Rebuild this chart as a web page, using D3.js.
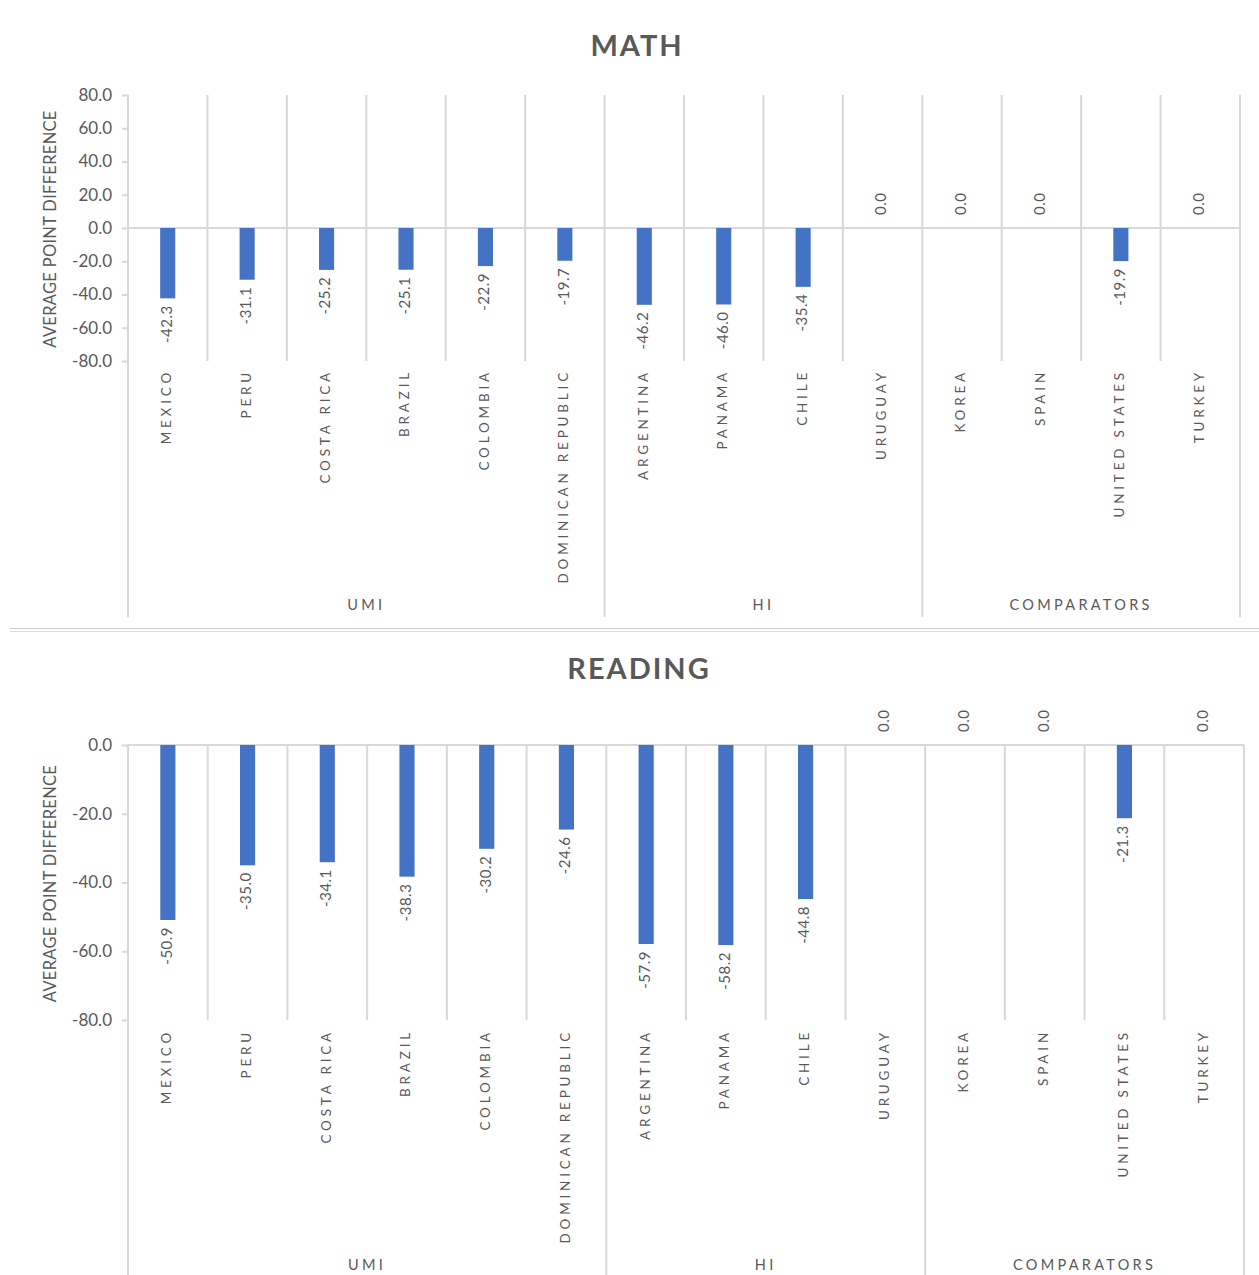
<!DOCTYPE html>
<html>
<head>
<meta charset="utf-8">
<script src="https://cdn.jsdelivr.net/npm/d3@7"></script>
<style>
  body { margin: 0; background: #fff; }
  svg { display: block; font-family: Lato, "Open Sans", sans-serif; }
</style>
</head>
<body>
<div id="chart"></div>
<script>
// data
var countries = ["MEXICO", "PERU", "COSTA RICA", "BRAZIL", "COLOMBIA", "DOMINICAN REPUBLIC",
                 "ARGENTINA", "PANAMA", "CHILE", "URUGUAY",
                 "KOREA", "SPAIN", "UNITED STATES", "TURKEY"];
var groups = [
  { name: "UMI", size: 6 },
  { name: "HI", size: 4 },
  { name: "COMPARATORS", size: 4 }
];
var mathValues = [-42.3, -31.1, -25.2, -25.1, -22.9, -19.7, -46.2, -46.0, -35.4, 0.0, 0.0, 0.0, -19.9, 0.0];
var readingValues = [-50.9, -35.0, -34.1, -38.3, -30.2, -24.6, -57.9, -58.2, -44.8, 0.0, 0.0, 0.0, -21.3, 0.0];
var mathTicks = [-80, -60, -40, -20, 0, 20, 40, 60, 80];
var readingTicks = [-80, -60, -40, -20, 0];

var textColor = "#595959";
var gridColor = "#d9d9d9";
var barColor = "#4472c4";

var svg = d3.select("#chart").append("svg")
    .attr("width", 1259)
    .attr("height", 1275);

function drawPanel(p) {
  var g = svg.append("g");

  var x = d3.scaleBand()
            .domain(countries)
            .range([p.left, p.right])
            .paddingInner(0)
            .paddingOuter(0);

  var y = d3.scaleLinear()
            .domain(p.domain)
            .range([p.bottom, p.top]);

  var bw = x.bandwidth();
  var barW = bw * 0.19;

  // title
  g.append("text")
   .attr("x", p.titleX)
   .attr("y", p.titleY)
   .attr("text-anchor", "middle")
   .attr("dominant-baseline", "middle")
   .style("font-size", "29px")
   .style("font-weight", "bold")
   .style("letter-spacing", "2px")
   .style("fill", textColor)
   .text(p.title);

  // vertical gridlines between categories
  var bounds = countries.map(function(c) { return x(c) + bw; });
  var groupEnds = [];
  var acc = 0;
  groups.forEach(function(gr) { acc += gr.size; groupEnds.push(acc - 1); });

  g.selectAll(".vgrid")
   .data(bounds)
   .enter().append("line")
   .attr("x1", function(d) { return d; })
   .attr("x2", function(d) { return d; })
   .attr("y1", p.top)
   .attr("y2", function(d, i) { return groupEnds.indexOf(i) >= 0 ? p.axisBottom : p.bottom; })
   .style("stroke", gridColor)
   .style("stroke-width", 2);

  // zero line
  g.append("line")
   .attr("x1", p.left)
   .attr("x2", p.right)
   .attr("y1", y(0))
   .attr("y2", y(0))
   .style("stroke", gridColor)
   .style("stroke-width", 2);

  // y axis
  var yAxis = d3.axisLeft(y)
                .tickValues(p.ticks)
                .tickSize(6)
                .tickPadding(10)
                .tickFormat(function(d) { return d.toFixed(1); });

  var ya = g.append("g")
            .attr("transform", "translate(" + p.left + ",0)")
            .call(yAxis);
  ya.select(".domain").remove();
  ya.selectAll(".tick line").style("stroke", gridColor).style("stroke-width", 2);
  ya.selectAll(".tick text")
    .style("font-size", "17px")
    .style("font-family", "Lato, sans-serif")
    .style("fill", textColor);

  g.append("line")
   .attr("x1", p.left)
   .attr("x2", p.left)
   .attr("y1", p.top)
   .attr("y2", p.axisBottom)
   .style("stroke", gridColor)
   .style("stroke-width", 2);

  // y axis title
  g.append("text")
   .attr("transform", "translate(52," + ((p.top + p.bottom) / 2 + 1) + ") rotate(-90)")
   .attr("text-anchor", "middle")
   .attr("dominant-baseline", "middle")
   .style("font-size", "16.5px")
   .style("letter-spacing", "0.3px")
   .style("fill", textColor)
   .text("AVERAGE POINT DIFFERENCE");

  // bars
  var data = countries.map(function(c, i) { return { name: c, value: p.values[i] }; });

  g.selectAll(".bar")
   .data(data)
   .enter().append("rect")
   .attr("x", function(d) { return x(d.name) + (bw - barW) / 2; })
   .attr("y", function(d) { return Math.min(y(0), y(d.value)); })
   .attr("width", barW)
   .attr("height", function(d) { return Math.abs(y(d.value) - y(0)); })
   .style("fill", barColor);

  // value labels
  g.selectAll(".val")
   .data(data)
   .enter().append("text")
   .attr("transform", function(d) {
      var cx = x(d.name) + bw / 2;
      var yy = d.value < 0 ? y(d.value) + 7 : y(0) - 13;
      return "translate(" + cx + "," + yy + ") rotate(-90)";
   })
   .attr("text-anchor", function(d) { return d.value < 0 ? "end" : "start"; })
   .attr("dominant-baseline", "middle")
   .style("font-size", "15px")
   .style("letter-spacing", "0.5px")
   .style("fill", textColor)
   .text(function(d) { return d.value.toFixed(1); });

  // category labels
  g.selectAll(".cat")
   .data(countries)
   .enter().append("text")
   .attr("transform", function(d) {
      return "translate(" + (x(d) + bw / 2) + "," + p.catY + ") rotate(-90)";
   })
   .attr("text-anchor", "end")
   .attr("dominant-baseline", "middle")
   .style("font-size", "13.5px")
   .style("letter-spacing", "3.8px")
   .style("fill", textColor)
   .text(function(d) { return d; });

  // group labels
  var start = 0;
  groups.forEach(function(gr) {
    var x0 = x(countries[start]);
    var x1 = x(countries[start + gr.size - 1]) + bw;
    g.append("text")
     .attr("x", (x0 + x1) / 2)
     .attr("y", p.groupY)
     .attr("text-anchor", "middle")
     .attr("dominant-baseline", "middle")
     .style("font-size", "14.5px")
     .style("letter-spacing", "3.3px")
     .style("fill", textColor)
     .text(gr.name);
    start += gr.size;
  });
}

drawPanel({
  title: "MATH", titleX: 637, titleY: 49,
  values: mathValues, ticks: mathTicks, domain: [-80, 80],
  left: 128, right: 1240, top: 95, bottom: 361,
  axisBottom: 617, catY: 369, groupY: 606
});

// separator between the two charts
svg.append("line").attr("x1", 10).attr("x2", 1259).attr("y1", 628.5).attr("y2", 628.5)
   .style("stroke", "#c8c8c8");
svg.append("line").attr("x1", 10).attr("x2", 1259).attr("y1", 631.5).attr("y2", 631.5)
   .style("stroke", "#dcdcdc");

drawPanel({
  title: "READING", titleX: 639, titleY: 672,
  values: readingValues, ticks: readingTicks, domain: [-80, 0],
  left: 128, right: 1244, top: 745, bottom: 1020,
  axisBottom: 1275, catY: 1029, groupY: 1266
});
</script>
</body>
</html>
